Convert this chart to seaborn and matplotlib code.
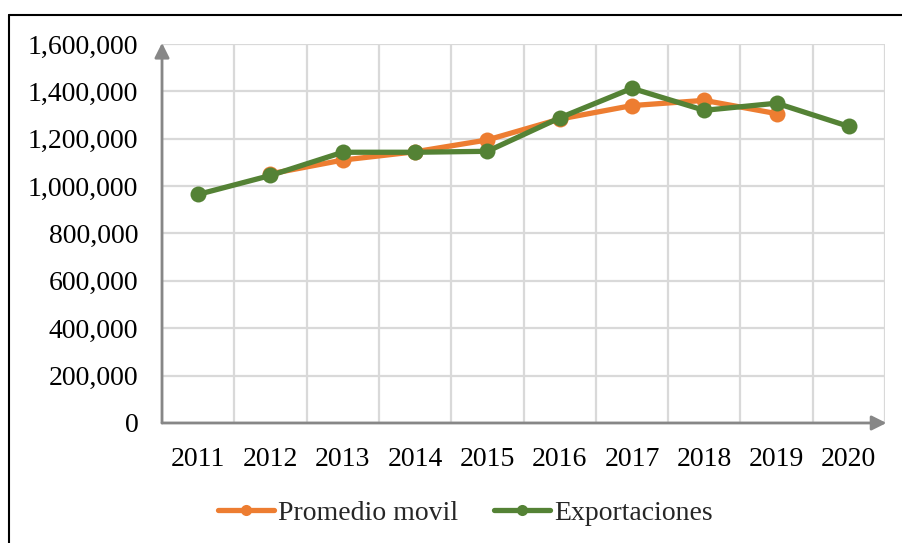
import numpy as np
import pandas as pd
import matplotlib
matplotlib.use("Agg")
import matplotlib.pyplot as plt
import seaborn as sns
from matplotlib.ticker import FuncFormatter, FixedLocator
from matplotlib.lines import Line2D

years = ["2011", "2012", "2013", "2014", "2015", "2016", "2017", "2018", "2019", "2020"]
promedio_movil = [np.nan, 1052000, 1110000, 1145000, 1195000, 1283000, 1340000, 1362000, 1306000, np.nan]
exportaciones = [965000, 1045000, 1143000, 1143000, 1147000, 1288000, 1413000, 1320000, 1350000, 1252000]
y_ticks = [0, 200000, 400000, 600000, 800000, 1000000, 1200000, 1400000, 1600000]

sns.set_theme(style="white")
plt.rcParams["font.family"] = ["Liberation Serif", "DejaVu Serif"]

ORANGE = "#ED7D31"
GREEN = "#548235"
GRID = "#D9D9D9"
AXIS = "#878787"
FS = 20

df = pd.DataFrame({"pos": np.arange(len(years)), "Promedio movil": promedio_movil,
                   "Exportaciones": exportaciones})

fig = plt.figure(figsize=(9.03, 5.43), dpi=100)
ax = fig.add_axes([162 / 903, 1 - 423 / 543, (885 - 162) / 903, (423 - 44) / 543])

sns.lineplot(data=df, x="pos", y="Promedio movil", ax=ax, color=ORANGE, lw=3.8,
             marker="o", markersize=11.5, markeredgewidth=0, label="Promedio movil", zorder=3)
sns.lineplot(data=df, x="pos", y="Exportaciones", ax=ax, color=GREEN, lw=3.8,
             marker="o", markersize=11.5, markeredgewidth=0, label="Exportaciones", zorder=4)

ax.set_xlim(-0.5, len(years) - 0.5)
ax.set_ylim(0, 1600000)
ax.set_xlabel("")
ax.set_ylabel("")

ax.xaxis.set_major_locator(FixedLocator(np.arange(len(years))))
ax.set_xticklabels(years)
ax.xaxis.set_minor_locator(FixedLocator(np.arange(len(years) + 1) - 0.5))
ax.set_yticks(y_ticks)
ax.yaxis.set_major_formatter(FuncFormatter(lambda v, p: f"{int(v):,}"))

ax.grid(False)
ax.grid(True, which="major", axis="y", color=GRID, lw=1.6)
ax.grid(True, which="minor", axis="x", color=GRID, lw=1.6)
ax.tick_params(axis="both", which="both", length=0, labelsize=FS, colors="black")
ax.tick_params(axis="y", pad=17)
ax.tick_params(axis="x", pad=17)
for s in ax.spines.values():
    s.set_visible(False)

# axis arrows
ax.annotate("", xy=(0, 1.003), xytext=(0, 0), xycoords="axes fraction",
            arrowprops=dict(arrowstyle="-|>", color=AXIS, lw=2, mutation_scale=22,
                            shrinkA=0, shrinkB=0), annotation_clip=False, zorder=5)
ax.annotate("", xy=(1.002, 0), xytext=(0, 0), xycoords="axes fraction",
            arrowprops=dict(arrowstyle="-|>", color=AXIS, lw=2, mutation_scale=22,
                            shrinkA=0, shrinkB=0), annotation_clip=False, zorder=5)

leg = ax.legend(loc="center", bbox_to_anchor=(0.5155, 0.055), bbox_transform=fig.transFigure,
                ncol=2, frameon=False, fontsize=FS, handlelength=2.0, handletextpad=0.15,
                columnspacing=1.3)
for h in leg.legend_handles:
    h.set_markersize(8)

# outer frame (partially visible)
fig.add_artist(Line2D([9 / 903, 1.0], [1 - 15 / 543, 1 - 15 / 543], transform=fig.transFigure,
                      color="black", lw=1.5))
fig.add_artist(Line2D([9 / 903, 9 / 903], [0, 1 - 15 / 543], transform=fig.transFigure,
                      color="black", lw=1.5))

fig.savefig("out.png", dpi=100, facecolor="white")
